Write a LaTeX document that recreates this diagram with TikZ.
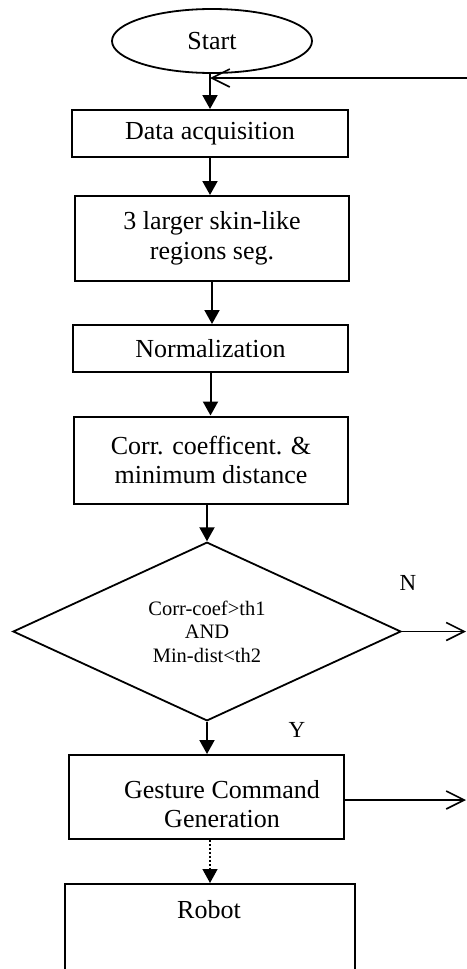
\documentclass[tikz,border=0pt]{standalone}
\usepackage{fontspec}
\setmainfont{Liberation Serif}
\usetikzlibrary{arrows.meta,shapes.geometric,calc}
\newcommand\mainfs{\fontsize{26bp}{29.5bp}\selectfont}
\newcommand\smallfs{\fontsize{20.5bp}{23.5bp}\selectfont}
\newcommand\lblfs{\fontsize{23bp}{26bp}\selectfont}
\begin{document}
\begin{tikzpicture}[x=1bp,y=-1bp,
  box/.style={draw, line width=2bp, rectangle, align=center, inner sep=0pt, font=\mainfs},
  arr/.style={line width=2bp, -{Triangle[length=14bp,width=15bp]}},
  oarr/.style={line width=1.6bp, -{Straight Barb[length=18bp,width=18bp]}}]
\useasboundingbox (0,0) rectangle (467,969);
\clip (0,0) rectangle (467,969);

\node[ellipse, draw, line width=1.8bp, minimum width=200bp, minimum height=64bp, inner sep=0pt, font=\mainfs] (start) at (212,41) {Start};
\node[box, minimum width=276bp, minimum height=47bp] (data) at (210,133.5) {Data acquisition};
\node[box, minimum width=274bp, minimum height=85bp] (skin) at (212,238.5) {3 larger skin-like\\regions seg.};
\node[box, minimum width=275bp, minimum height=47bp] (norm) at (210.5,348.5) {Normalization};
\node[box, minimum width=274bp, minimum height=87bp] (corr) at (211,460) {Corr. coefficent. \&\\minimum distance};
\node[diamond, draw, line width=1.8bp, minimum width=388bp, minimum height=169bp, inner sep=0pt, align=center, font=\smallfs] (dec) at (207,631.5) {Corr-coef>th1\\AND\\Min-dist<th2};
\node[box, minimum width=275bp, minimum height=84bp] (gest) at (206.5,797) {};
\node[align=center, font=\mainfs, inner sep=0pt] (gesttext) at (222,804) {Gesture Command\\Generation};
\node[draw, line width=2bp, minimum width=290bp, minimum height=150bp, anchor=north, inner sep=0pt] (robot) at (210,883) {};
\node[font=\mainfs, inner sep=0pt] (robottext) at (209,910) {Robot};

\node[font=\lblfs, inner sep=0pt] (nlbl) at (408,583) {N};
\node[font=\lblfs, inner sep=0pt] (ylbl) at (297,730) {Y};

\draw[arr] (data.north |- start.south) -- (data.north);
\draw[arr] (data.south) -- (data.south |- skin.north);
\draw[arr] (skin.south) -- (skin.south |- norm.north);
\draw[arr] (norm.south) -- (norm.south |- corr.north);
\draw[arr] (dec.north |- corr.south) -- (dec.north);
\draw[arr] (dec.south) -- (dec.south |- gest.north);
\draw[arr, dotted, line width=1.4bp] (robot.north |- gest.south) -- (robot.north);

\coordinate (fbin) at (467,78);
\coordinate (nout) at (466,631.5);
\coordinate (gout) at (466,800);
\draw[oarr] (fbin) -- (fbin -| data.north);
\draw[oarr] (dec.east) -- (nout);
\draw[oarr] (gest.east |- gout) -- (gout);
\end{tikzpicture}
\end{document}
